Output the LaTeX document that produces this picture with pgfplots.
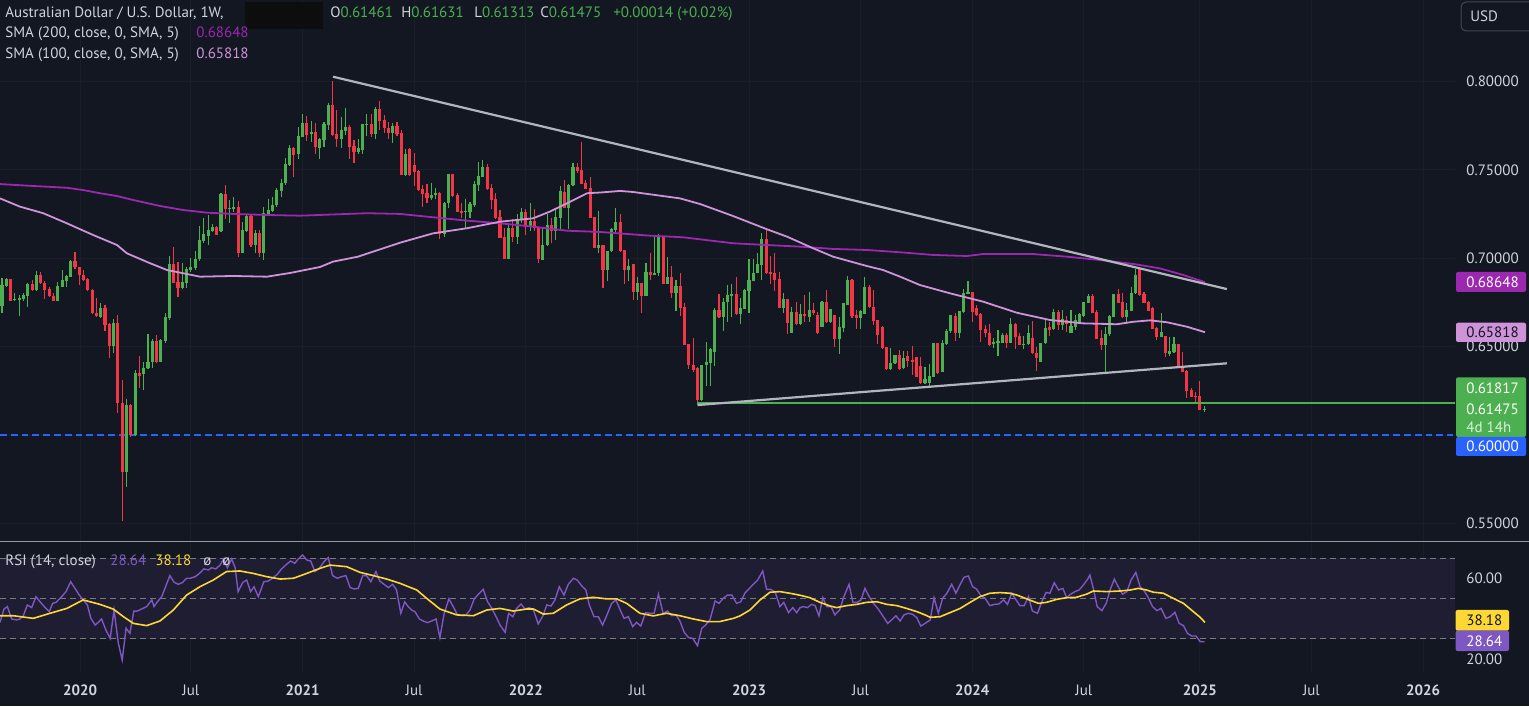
\documentclass[border=0pt]{standalone}
\usepackage{fontspec}
\setmainfont{PT Sans}
\usepackage{pgfplots}
\usepackage{pgfplotstable}
\pgfplotsset{compat=1.18}

\definecolor{bg}{HTML}{131722}
\definecolor{txt}{HTML}{D1D4DC}
\definecolor{upc}{HTML}{4CAF50}
\definecolor{dnc}{HTML}{F23645}
\definecolor{smaA}{HTML}{9C27B0}
\definecolor{smaB}{HTML}{CE93D8}
\definecolor{trend}{HTML}{B2B5BE}
\definecolor{blu}{HTML}{2962FF}
\definecolor{rsic}{HTML}{7E57C2}
\definecolor{rsima}{HTML}{FDD835}
\definecolor{band}{HTML}{1E1D32}
\definecolor{gridc}{HTML}{1A1E29}
\definecolor{dashc}{HTML}{787B86}
\definecolor{sep}{HTML}{9598A1}
\definecolor{boxline}{HTML}{434651}

\newcommand\tv{\fontsize{7.5}{8.5}\selectfont}

% weekly AUD/USD candles, i = week index (0 = late Aug 2019)
\pgfplotstableread{
i o h l c
0 0.6731 0.6887 0.6693 0.6849
1 0.6844 0.6887 0.6840 0.6881
2 0.6883 0.6883 0.6757 0.6761
3 0.6768 0.6806 0.6761 0.6772
4 0.6770 0.6793 0.6674 0.6773
5 0.6768 0.6806 0.6761 0.6793
6 0.6789 0.6863 0.6727 0.6855
7 0.6855 0.6878 0.6817 0.6821
8 0.6821 0.6930 0.6817 0.6906
9 0.6906 0.6925 0.6855 0.6859
10 0.6863 0.6872 0.6772 0.6821
11 0.6825 0.6836 0.6780 0.6787
12 0.6787 0.6802 0.6757 0.6761
13 0.6761 0.6868 0.6757 0.6844
14 0.6840 0.6934 0.6836 0.6878
15 0.6874 0.6906 0.6840 0.6900
16 0.6897 0.6991 0.6893 0.6987
17 0.6985 0.7036 0.6938 0.6949
18 0.6949 0.6953 0.6849 0.6906
19 0.6906 0.6934 0.6872 0.6878
20 0.6881 0.6887 0.6817 0.6821
21 0.6821 0.6825 0.6685 0.6693
22 0.6693 0.6774 0.6666 0.6674
23 0.6670 0.6749 0.6661 0.6717
24 0.6717 0.6736 0.6591 0.6623
25 0.6629 0.6633 0.6438 0.6504
26 0.6504 0.6655 0.6467 0.6633
27 0.6633 0.6680 0.6127 0.6180
28 0.6180 0.6312 0.5516 0.5794
29 0.5794 0.6203 0.5709 0.6171
30 0.6171 0.6175 0.5988 0.6001
31 0.6001 0.6369 0.5995 0.6350
32 0.6350 0.6448 0.6265 0.6335
33 0.6346 0.6416 0.6255 0.6378
34 0.6378 0.6572 0.6372 0.6416
35 0.6416 0.6542 0.6378 0.6533
36 0.6533 0.6567 0.6406 0.6416
37 0.6416 0.6542 0.6412 0.6538
38 0.6533 0.6689 0.6523 0.6670
39 0.6661 0.7013 0.6651 0.6968
40 0.6968 0.7062 0.6859 0.6863
41 0.6868 0.6981 0.6780 0.6831
42 0.6831 0.6976 0.6825 0.6868
43 0.6863 0.6953 0.6831 0.6938
44 0.6934 0.7000 0.6925 0.6949
45 0.6945 0.7040 0.6934 0.6995
46 0.6995 0.7183 0.6987 0.7104
47 0.7100 0.7226 0.7089 0.7138
48 0.7127 0.7245 0.7076 0.7160
49 0.7157 0.7194 0.7149 0.7179
50 0.7179 0.7183 0.7130 0.7134
51 0.7153 0.7372 0.7151 0.7364
52 0.7364 0.7415 0.7221 0.7279
53 0.7283 0.7330 0.7198 0.7285
54 0.7285 0.7349 0.7264 0.7289
55 0.7292 0.7326 0.7010 0.7032
56 0.7032 0.7208 0.7029 0.7160
57 0.7157 0.7251 0.7151 0.7242
58 0.7242 0.7245 0.7062 0.7076
59 0.7076 0.7160 0.7029 0.7145
60 0.7145 0.7160 0.7006 0.7029
61 0.7029 0.7292 0.6991 0.7255
62 0.7251 0.7334 0.7245 0.7274
63 0.7270 0.7349 0.7264 0.7302
64 0.7302 0.7396 0.7292 0.7387
65 0.7383 0.7447 0.7345 0.7424
66 0.7424 0.7566 0.7415 0.7534
67 0.7528 0.7641 0.7522 0.7622
68 0.7622 0.7628 0.7462 0.7585
69 0.7590 0.7745 0.7560 0.7692
70 0.7688 0.7817 0.7685 0.7768
71 0.7768 0.7805 0.7666 0.7698
72 0.7703 0.7779 0.7660 0.7717
73 0.7717 0.7768 0.7590 0.7628
74 0.7622 0.7679 0.7562 0.7675
75 0.7669 0.7773 0.7632 0.7758
76 0.7754 0.7881 0.7726 0.7867
77 0.7867 0.8003 0.7692 0.7698
78 0.7703 0.7839 0.7628 0.7675
79 0.7675 0.7798 0.7622 0.7726
80 0.7722 0.7849 0.7698 0.7745
81 0.7745 0.7754 0.7562 0.7632
82 0.7636 0.7669 0.7538 0.7604
83 0.7604 0.7675 0.7590 0.7626
84 0.7613 0.7760 0.7590 0.7760
85 0.7758 0.7817 0.7692 0.7762
86 0.7760 0.7817 0.7688 0.7703
87 0.7703 0.7858 0.7675 0.7845
88 0.7845 0.7890 0.7726 0.7779
89 0.7783 0.7811 0.7711 0.7735
90 0.7735 0.7773 0.7675 0.7711
91 0.7711 0.7768 0.7651 0.7749
92 0.7749 0.7773 0.7692 0.7703
93 0.7711 0.7726 0.7472 0.7472
94 0.7472 0.7617 0.7468 0.7590
95 0.7617 0.7622 0.7466 0.7472
96 0.7528 0.7594 0.7409 0.7490
97 0.7494 0.7498 0.7383 0.7387
98 0.7390 0.7415 0.7292 0.7364
99 0.7368 0.7421 0.7315 0.7343
100 0.7343 0.7424 0.7330 0.7358
101 0.7356 0.7396 0.7334 0.7372
102 0.7372 0.7375 0.7110 0.7136
103 0.7136 0.7321 0.7123 0.7311
104 0.7311 0.7477 0.7287 0.7477
105 0.7477 0.7479 0.7345 0.7353
106 0.7358 0.7372 0.7262 0.7264
107 0.7266 0.7315 0.7226 0.7262
108 0.7260 0.7334 0.7174 0.7270
109 0.7260 0.7321 0.7226 0.7307
110 0.7302 0.7440 0.7292 0.7421
111 0.7415 0.7547 0.7383 0.7466
112 0.7462 0.7556 0.7458 0.7519
113 0.7519 0.7534 0.7387 0.7392
114 0.7396 0.7421 0.7279 0.7330
115 0.7334 0.7368 0.7224 0.7226
116 0.7232 0.7273 0.7115 0.7117
117 0.7123 0.7170 0.6994 0.6996
118 0.6996 0.7189 0.6994 0.7170
119 0.7170 0.7221 0.7095 0.7123
120 0.7123 0.7251 0.7081 0.7223
121 0.7221 0.7283 0.7202 0.7264
122 0.7264 0.7277 0.7132 0.7179
123 0.7179 0.7311 0.7157 0.7211
124 0.7211 0.7277 0.7157 0.7170
125 0.7170 0.7172 0.6972 0.6995
126 0.6991 0.7170 0.6989 0.7076
127 0.7074 0.7251 0.7070 0.7189
128 0.7189 0.7226 0.7089 0.7157
129 0.7157 0.7283 0.7104 0.7232
130 0.7226 0.7409 0.7160 0.7381
131 0.7377 0.7443 0.7283 0.7287
132 0.7287 0.7421 0.7164 0.7415
133 0.7415 0.7538 0.7409 0.7519
134 0.7519 0.7541 0.7481 0.7494
135 0.7500 0.7658 0.7419 0.7421
136 0.7424 0.7443 0.7390 0.7392
137 0.7400 0.7462 0.7228 0.7230
138 0.7236 0.7236 0.7057 0.7061
139 0.7061 0.7270 0.7032 0.7076
140 0.7076 0.7078 0.6830 0.6934
141 0.6934 0.7044 0.6874 0.7042
142 0.7040 0.7170 0.7036 0.7166
143 0.7160 0.7283 0.7145 0.7208
144 0.7203 0.7251 0.7037 0.7043
145 0.7047 0.7047 0.6855 0.6934
146 0.6934 0.6994 0.6874 0.6957
147 0.6966 0.6966 0.6764 0.6811
148 0.6811 0.6896 0.6764 0.6858
149 0.6858 0.6858 0.6689 0.6789
150 0.6789 0.6975 0.6785 0.6921
151 0.6921 0.7028 0.6877 0.6906
152 0.6911 0.7126 0.6906 0.6917
153 0.6917 0.7137 0.6902 0.7122
154 0.7122 0.7126 0.6853 0.6855
155 0.6855 0.7009 0.6853 0.6896
156 0.6896 0.6957 0.6777 0.6802
157 0.6802 0.6877 0.6704 0.6843
158 0.6843 0.6915 0.6674 0.6721
159 0.6723 0.6745 0.6508 0.6510
160 0.6516 0.6516 0.6372 0.6397
161 0.6397 0.6547 0.6359 0.6368
162 0.6378 0.6384 0.6180 0.6199
163 0.6199 0.6399 0.6195 0.6397
164 0.6397 0.6529 0.6278 0.6415
165 0.6410 0.6491 0.6278 0.6487
166 0.6472 0.6717 0.6391 0.6708
167 0.6708 0.6798 0.6664 0.6670
168 0.6670 0.6774 0.6589 0.6751
169 0.6751 0.6849 0.6642 0.6793
170 0.6793 0.6855 0.6670 0.6796
171 0.6796 0.6896 0.6679 0.6685
172 0.6685 0.6774 0.6628 0.6717
173 0.6713 0.6825 0.6713 0.6821
174 0.6817 0.6994 0.6689 0.6877
175 0.6874 0.6994 0.6870 0.6919
176 0.6915 0.7032 0.6915 0.6968
177 0.6963 0.7141 0.6877 0.7109
178 0.7109 0.7160 0.6913 0.6915
179 0.6921 0.7013 0.6855 0.6915
180 0.6915 0.7032 0.6817 0.6877
181 0.6883 0.6925 0.6717 0.6721
182 0.6721 0.6802 0.6693 0.6768
183 0.6768 0.6768 0.6570 0.6636
184 0.6580 0.6726 0.6576 0.6698
185 0.6694 0.6755 0.6623 0.6627
186 0.6627 0.6742 0.6623 0.6683
187 0.6683 0.6793 0.6642 0.6674
188 0.6670 0.6808 0.6642 0.6708
189 0.6708 0.6749 0.6679 0.6689
190 0.6679 0.6698 0.6572 0.6576
191 0.6613 0.6760 0.6610 0.6751
192 0.6751 0.6821 0.6636 0.6642
193 0.6642 0.6711 0.6636 0.6711
194 0.6679 0.6679 0.6497 0.6544
195 0.6544 0.6670 0.6459 0.6613
196 0.6604 0.6749 0.6585 0.6745
197 0.6736 0.6900 0.6736 0.6877
198 0.6877 0.6881 0.6664 0.6676
199 0.6679 0.6708 0.6600 0.6664
200 0.6664 0.6708 0.6600 0.6702
201 0.6685 0.6896 0.6685 0.6840
202 0.6840 0.6849 0.6717 0.6723
203 0.6726 0.6821 0.6623 0.6646
204 0.6651 0.6651 0.6515 0.6566
205 0.6613 0.6617 0.6489 0.6491
206 0.6500 0.6500 0.6368 0.6372
207 0.6372 0.6491 0.6368 0.6410
208 0.6406 0.6453 0.6402 0.6453
209 0.6453 0.6481 0.6368 0.6372
210 0.6378 0.6477 0.6372 0.6434
211 0.6447 0.6477 0.6387 0.6421
212 0.6423 0.6504 0.6340 0.6417
213 0.6440 0.6444 0.6327 0.6330
214 0.6391 0.6444 0.6289 0.6293
215 0.6293 0.6387 0.6289 0.6317
216 0.6293 0.6402 0.6274 0.6334
217 0.6330 0.6519 0.6330 0.6519
218 0.6519 0.6523 0.6345 0.6353
219 0.6359 0.6538 0.6359 0.6519
220 0.6515 0.6598 0.6510 0.6589
221 0.6589 0.6679 0.6579 0.6679
222 0.6674 0.6689 0.6532 0.6579
223 0.6579 0.6702 0.6547 0.6702
224 0.6698 0.6824 0.6692 0.6802
225 0.6802 0.6872 0.6802 0.6809
226 0.6809 0.6809 0.6642 0.6694
227 0.6717 0.6736 0.6674 0.6679
228 0.6685 0.6689 0.6528 0.6594
229 0.6600 0.6623 0.6557 0.6576
230 0.6576 0.6626 0.6504 0.6510
231 0.6513 0.6547 0.6491 0.6525
232 0.6519 0.6594 0.6447 0.6532
233 0.6523 0.6576 0.6519 0.6566
234 0.6566 0.6576 0.6491 0.6523
235 0.6523 0.6660 0.6523 0.6628
236 0.6628 0.6632 0.6485 0.6557
237 0.6560 0.6576 0.6510 0.6510
238 0.6510 0.6560 0.6485 0.6515
239 0.6513 0.6623 0.6510 0.6576
240 0.6547 0.6645 0.6459 0.6462
241 0.6466 0.6500 0.6364 0.6434
242 0.6415 0.6523 0.6411 0.6519
243 0.6519 0.6660 0.6515 0.6608
244 0.6613 0.6642 0.6560 0.6594
245 0.6598 0.6713 0.6594 0.6696
246 0.6696 0.6707 0.6594 0.6623
247 0.6623 0.6707 0.6594 0.6655
248 0.6651 0.6674 0.6585 0.6628
249 0.6579 0.6707 0.6579 0.6617
250 0.6613 0.6679 0.6594 0.6651
251 0.6632 0.6689 0.6628 0.6683
252 0.6674 0.6755 0.6670 0.6751
253 0.6749 0.6796 0.6745 0.6787
254 0.6787 0.6796 0.6689 0.6692
255 0.6698 0.6707 0.6542 0.6543
256 0.6551 0.6594 0.6481 0.6510
257 0.6510 0.6609 0.6349 0.6570
258 0.6570 0.6679 0.6562 0.6674
259 0.6670 0.6796 0.6666 0.6796
260 0.6796 0.6824 0.6745 0.6749
261 0.6755 0.6802 0.6660 0.6666
262 0.6666 0.6749 0.6628 0.6707
263 0.6704 0.6836 0.6704 0.6805
264 0.6802 0.6938 0.6798 0.6905
265 0.6938 0.6943 0.6787 0.6792
266 0.6796 0.6809 0.6745 0.6749
267 0.6755 0.6760 0.6704 0.6704
268 0.6717 0.6723 0.6598 0.6600
269 0.6604 0.6613 0.6538 0.6557
270 0.6557 0.6689 0.6553 0.6581
271 0.6560 0.6560 0.6444 0.6462
272 0.6459 0.6553 0.6447 0.6477
273 0.6472 0.6553 0.6466 0.6515
274 0.6515 0.6515 0.6383 0.6387
275 0.6391 0.6472 0.6359 0.6359
276 0.6362 0.6368 0.6208 0.6251
277 0.6255 0.6264 0.6217 0.6217
278 0.6223 0.6246 0.6183 0.6219
279 0.6221 0.6306 0.6142 0.6142
280 0.61461 0.61631 0.61313 0.61475
}\candles

\pgfplotstableread{
i p
-0.47 0.7420
7.2 0.7409
15.1 0.7399
18.9 0.7386
22.8 0.7368
26.8 0.7352
30.5 0.7330
36.8 0.7296
42.2 0.7273
47.8 0.7258
53.8 0.7251
61.7 0.7245
69.4 0.7241
85.0 0.7255
92.7 0.7251
100.4 0.7232
108.3 0.7213
116.0 0.7198
123.7 0.7179
131.6 0.7156
139.3 0.7149
150.9 0.7128
158.6 0.7119
170.3 0.7085
178.2 0.7075
185.9 0.7066
193.6 0.7053
201.5 0.7047
209.2 0.7034
216.9 0.7019
224.8 0.7013
228.5 0.7024
240.2 0.7024
248.1 0.7009
255.8 0.6990
263.5 0.6968
269.7 0.6943
275.1 0.6906
280.2 0.6865
}\smaslow

\pgfplotstableread{
i p
-0.47 0.7339
4.2 0.7292
9.6 0.7255
15.1 0.7198
21.2 0.7132
26.8 0.7075
29.1 0.7028
34.5 0.6972
38.4 0.6934
43.1 0.6911
46.1 0.6896
53.8 0.6900
61.7 0.6896
67.1 0.6917
74.1 0.6951
77.1 0.6981
82.9 0.7009
92.7 0.7088
100.4 0.7141
108.3 0.7170
116.0 0.7207
123.7 0.7226
127.6 0.7264
131.6 0.7311
136.3 0.7368
139.3 0.7372
144.0 0.7381
147.0 0.7375
157.9 0.7339
162.6 0.7307
170.3 0.7239
178.2 0.7164
182.9 0.7122
188.9 0.7057
193.6 0.7009
201.5 0.6956
205.2 0.6934
209.2 0.6896
213.8 0.6849
220.8 0.6802
228.5 0.6755
236.4 0.6692
244.1 0.6651
251.8 0.6632
259.7 0.6627
263.5 0.6641
267.4 0.6649
271.4 0.6638
276.0 0.6613
280.2 0.6582
}\smafast

\pgfplotstableread{
i r
-0.47 38.2
0.47 44.8
1.24 46.0
2.25 39.9
3.42 39.4
4.19 39.9
4.97 41.5
5.90 46.8
6.91 45.5
7.92 50.9
8.85 48.4
9.86 46.0
11.02 43.5
11.80 47.6
12.58 48.1
13.12 49.3
13.90 50.9
14.91 53.4
16.0 58.3
17.0 55.0
18.0 51.7
18.9 49.3
19.9 46.8
20.7 40.2
21.7 36.9
22.4 38.2
23.2 39.9
24.2 34.4
25.2 30.3
26.1 44.3
27.1 27.9
28.0 19.6
28.9 35.3
29.8 32.8
30.7 43.8
31.5 43.8
32.5 44.8
33.7 46.0
34.9 49.3
35.4 46.0
36.2 48.4
37.2 50.9
38.1 55.8
39.1 61.3
40.1 58.0
41.1 57.0
42.1 58.0
43.0 60.0
43.9 60.0
45.0 60.8
46.0 62.4
47.0 64.6
48.1 64.1
48.8 65.2
49.8 64.6
50.8 66.5
51.6 69.5
52.5 65.2
53.5 69.5
54.3 65.2
55.0 53.4
56.1 58.0
57.0 59.1
57.9 53.4
58.7 55.8
59.7 50.9
61.0 58.3
62.0 58.6
63.0 60.0
64.1 61.9
65.1 64.6
66.3 66.9
67.2 68.5
68.2 67.4
69.0 69.5
70.0 71.5
71.0 69.0
71.9 68.5
72.9 63.3
73.9 64.9
75.0 68.2
76.0 70.2
77.0 61.3
78.1 60.0
79.1 60.8
80.1 61.3
81.1 55.4
82.0 54.7
83.0 55.0
84.0 61.3
84.9 61.3
85.9 58.3
87.1 63.3
88.0 58.6
89.0 57.0
90.0 55.4
91.0 57.0
91.9 54.2
92.9 42.7
93.8 48.3
94.6 46.0
95.4 44.3
96.2 43.5
97.2 39.9
98.1 38.9
99.1 38.1
100.1 38.9
101.1 39.9
102.0 30.7
103.0 42.7
104.1 49.8
105.1 46.0
106.1 41.9
107.1 41.5
108.1 41.9
109.0 44.3
110.0 49.8
111.0 52.2
112.1 54.5
113.1 48.4
114.1 45.1
115.1 41.0
116.0 36.9
117.2 33.3
118.0 42.7
119.0 41.0
119.9 45.1
120.9 47.3
121.8 44.8
122.8 45.5
123.8 44.3
124.9 37.4
126.0 41.5
126.9 46.8
127.9 46.3
128.8 49.3
129.8 55.8
130.9 51.7
131.9 57.0
133.1 60.0
134.0 59.1
135.0 56.3
136.0 54.2
136.8 46.8
137.9 41.0
138.9 41.0
139.9 36.9
141.0 42.3
142.0 47.6
143.0 49.3
144.0 44.3
144.9 40.2
145.9 41.0
146.9 36.1
147.8 38.2
148.8 36.4
149.9 43.0
150.9 42.7
151.9 42.7
152.9 52.1
154.0 42.7
155.0 43.8
156.0 41.5
157.0 41.9
157.9 38.9
158.9 33.3
159.9 30.7
160.9 30.3
162.0 26.7
163.0 35.3
163.9 36.9
164.9 39.4
166.1 48.8
167.0 47.6
168.0 50.1
169.0 51.7
170.0 51.7
171.1 47.6
172.1 48.4
173.1 52.9
174.1 55.0
175.0 57.0
176.0 59.1
177.2 63.6
178.1 54.5
179.1 54.5
180.1 53.1
181.2 46.0
182.1 48.1
183.2 43.0
184.2 45.5
185.1 43.0
185.9 45.5
186.7 46.0
187.6 45.5
188.6 47.1
189.4 46.5
190.3 41.4
191.2 50.4
192.1 46.0
193.1 46.0
194.0 41.9
195.1 44.3
196.1 50.9
197.3 57.0
198.2 48.1
199.2 48.1
200.1 49.3
201.0 55.0
202.0 50.9
203.0 47.6
204.1 44.8
205.3 41.0
206.3 37.7
207.2 39.4
208.2 41.5
209.2 38.9
210.1 41.9
211.1 42.7
212.1 42.2
213.1 40.5
214.0 36.4
215.0 37.7
216.2 39.4
217.1 50.4
218.1 42.7
219.1 50.1
220.1 52.6
221.2 57.0
222.2 52.6
223.2 57.0
224.1 60.5
225.1 61.1
226.1 55.8
227.0 54.7
228.0 51.4
229.0 50.1
230.1 46.5
231.2 47.1
232.2 47.3
233.3 49.3
234.2 47.1
235.2 52.6
236.2 49.3
237.1 46.5
238.1 46.5
239.1 50.9
240.0 43.8
241.2 42.7
242.2 48.4
243.2 53.0
244.1 52.6
245.1 57.8
246.1 54.2
247.1 55.0
248.0 50.4
248.9 52.1
249.9 53.4
250.9 54.2
251.9 56.7
252.9 59.6
253.4 61.6
254.2 55.0
255.1 46.0
256.2 44.0
257.2 47.6
258.1 54.2
259.1 59.6
260.0 55.8
261.0 52.1
262.0 53.4
263.0 59.1
264.1 62.9
265.1 55.8
266.1 53.7
267.0 50.4
268.0 46.0
269.0 44.0
270.0 45.1
271.1 40.2
272.1 41.0
273.2 43.2
274.2 37.7
275.2 36.6
276.1 32.8
277.1 31.5
278.1 31.5
279.1 28.7
280.1 28.64
}\rsi

\pgfplotstableread{
i r
-0.47 41.5
2.6 41.5
7.3 40.2
11.2 42.7
15.1 45.1
18.9 49.3
22.8 47.1
25.9 44.8
28.3 41.0
30.6 37.7
33.7 36.6
36.8 38.9
39.9 44.3
43.0 51.7
46.1 55.8
49.2 59.1
52.3 63.3
55.4 63.6
58.5 62.4
61.6 60.8
64.8 59.6
67.9 60.0
71.0 62.4
74.1 64.9
76.4 66.5
80.3 65.7
83.4 62.9
86.5 61.3
89.6 59.6
92.7 57.5
96.6 54.2
98.9 50.1
102.0 44.8
105.9 41.9
109.8 41.5
112.9 44.3
116.0 45.1
119.1 43.8
122.2 44.8
123.8 44.8
126.1 42.3
128.4 42.7
131.5 46.8
134.6 49.8
137.7 50.6
140.9 49.8
143.2 49.8
145.5 47.6
148.6 42.7
151.7 41.4
154.8 42.7
157.9 41.5
161.0 39.9
164.1 38.6
167.2 38.6
170.4 40.2
171.9 41.4
174.2 44.3
176.6 49.3
178.9 53.1
181.2 53.4
183.5 52.6
185.9 51.6
188.2 50.4
190.5 48.1
192.9 46.3
194.4 45.5
196.8 46.5
199.1 47.1
201.4 48.1
203.8 48.4
206.1 47.1
208.4 46.5
210.7 45.1
213.1 43.5
215.0 41.9
216.2 40.7
218.5 41.0
220.8 43.0
223.2 45.1
225.5 48.1
227.8 50.9
230.1 52.6
232.5 52.9
234.8 52.6
236.4 51.7
238.7 49.8
241.4 47.6
243.3 48.1
245.7 49.6
248.0 50.4
250.3 50.6
252.7 52.2
254.2 53.7
257.3 53.4
260.4 53.7
262.8 54.2
264.7 55.0
266.6 54.2
268.2 53.1
270.5 52.6
272.8 50.1
275.2 47.6
277.5 43.5
279.1 40.7
280.2 38.18
}\rsima

\pgfplotsset{
  wick/.style 2 args={draw=none, mark=none, forget plot,
    restrict expr to domain={\thisrow{c}-\thisrow{o}}{#1},
    error bars/.cd, y dir=both, y explicit, error mark=none,
    error bar style={draw=#2, line width=0.55pt}},
  body/.style 2 args={draw=none, mark=none, forget plot,
    restrict expr to domain={\thisrow{c}-\thisrow{o}}{#1},
    error bars/.cd, y dir=both, y explicit, error mark=none,
    error bar style={draw=#2, line width=1.55pt}},
  tvaxis/.style={scale only axis, width=727.5pt,
    xmin=-0.466, xmax=338.45,
    axis line style={draw=none}, major tick length=0pt,
    xtick={18.2,44,70,96,122,148,174,200,226,252,279,305,331},
    xmajorgrids, grid style={draw=gridc, line width=0.5pt},
    yticklabel pos=right,
    yticklabel style={anchor=west, inner sep=0pt, font=\tv, text=txt},
    yticklabel shift=5.5pt},
}

\begin{document}
\begin{tikzpicture}
\useasboundingbox (0,0) rectangle (764.5pt,353pt);
\fill[bg] (0,0) rectangle (764.5pt,353pt);

% price panel
\begin{axis}[tvaxis, at={(0pt,82.5pt)}, anchor=south west, height=270.5pt,
  ymin=0.54010, ymax=0.84610,
  xticklabels=\empty,
  ymajorgrids,
  ytick={0.55,0.60,0.65,0.70,0.75,0.80},
  yticklabels={0.55000,,0.65000,0.70000,0.75000,0.80000},
  clip=false]
\addplot[blu, line width=0.7pt, dash pattern=on 3.4pt off 2pt] coordinates {(-0.466,0.60) (338.0,0.60)};
\addplot[wick={0:1}{upc}] table[x=i, y expr={(\thisrow{h}+\thisrow{l})/2}, y error expr={(\thisrow{h}-\thisrow{l})/2}] {\candles};
\addplot[wick={-1:-0.0000001}{dnc}] table[x=i, y expr={(\thisrow{h}+\thisrow{l})/2}, y error expr={(\thisrow{h}-\thisrow{l})/2}] {\candles};
\addplot[body={0:1}{upc}] table[x=i, y expr={(\thisrow{o}+\thisrow{c})/2}, y error expr={max(abs(\thisrow{c}-\thisrow{o})/2,0.00012)}] {\candles};
\addplot[body={-1:-0.0000001}{dnc}] table[x=i, y expr={(\thisrow{o}+\thisrow{c})/2}, y error expr={max(abs(\thisrow{c}-\thisrow{o})/2,0.00012)}] {\candles};
% moving averages
\addplot[smaA, line width=0.9pt] table[x=i, y=p] {\smaslow};
\addplot[smaB, line width=0.9pt] table[x=i, y=p] {\smafast};
% drawn lines
\addplot[upc, line width=1pt] coordinates {(162.0,0.61817) (338.45,0.61817)};
\addplot[trend, line width=1.1pt] coordinates {(77.1,0.8027) (285.3,0.6826)};
\addplot[trend, line width=1.1pt] coordinates {(162.0,0.6170) (285.3,0.6406)};
\end{axis}

% RSI panel
\begin{axis}[tvaxis, at={(0pt,17pt)}, anchor=south west, height=64.5pt,
  ymin=13.70, ymax=77.41,
  ytick={20,60}, yticklabels={20.00,60.00},
  xticklabels={\textbf{2020},Jul,\textbf{2021},Jul,\textbf{2022},Jul,\textbf{2023},Jul,\textbf{2024},Jul,\textbf{2025},Jul,\textbf{2026}},
  xticklabel style={anchor=center, inner sep=0pt, font=\tv, text=txt},
  xticklabel shift=9pt,
  clip=false]
\fill[band] (axis cs:-0.466,30) rectangle (axis cs:338.45,70);
\foreach \v in {30,50,70}{
  \edef\tmp{\noexpand\draw[dashc, line width=0.5pt, dash pattern=on 3pt off 2pt] (axis cs:-0.466,\v) -- (axis cs:338.45,\v);}\tmp
}
\addplot[rsic, line width=0.7pt] table[x=i, y=r] {\rsi};
\addplot[rsima, line width=0.8pt] table[x=i, y=r] {\rsima};
\end{axis}

% panel separator
\draw[sep, line width=0.6pt] (0,82.25pt) -- (764.5pt,82.25pt);

% legend texts
\begin{scope}[every node/.style={inner sep=0pt, anchor=base west, font=\tv, text=txt}]
\node at (2.5pt,344.25pt) {Australian Dollar / U.S. Dollar, 1W,};
\fill[black!95] (122.5pt,352pt) rectangle (161.5pt,338.5pt);
\node at (165pt,344.25pt) {O\textcolor{upc}{0.61461}};
\node at (200.5pt,344.25pt) {H\textcolor{upc}{0.61631}};
\node at (237pt,344.25pt) {L\textcolor{upc}{0.61313}};
\node at (270pt,344.25pt) {C\textcolor{upc}{0.61475}};
\node[text=upc] at (306.5pt,344.25pt) {+0.00014 (+0.02\%)};
\node at (2.5pt,334.25pt) {SMA (200, close, 0, SMA, 5)};
\node[text=smaA] at (98pt,334.25pt) {0.68648};
\node at (2.5pt,323.75pt) {SMA (100, close, 0, SMA, 5)};
\node[text=smaB] at (98pt,323.75pt) {0.65818};
\node at (2.5pt,70pt) {RSI (14, close)};
\node[text=rsic] at (55pt,70pt) {28.64};
\node[text=rsima] at (77.5pt,70pt) {38.18};
\node at (101.5pt,70pt) {ø};
\node at (111pt,70pt) {ø};
\end{scope}

% right scale boxes
\begin{scope}[every node/.style={inner sep=0pt, anchor=west, font=\tv}]
\draw[boxline, line width=0.5pt, rounded corners=2.5pt] (730.5pt,352pt) rectangle (770pt,337.5pt);
\node[text=txt] at (735pt,345pt) {USD};
\fill[smaA, rounded corners=1pt] (728pt,217pt) rectangle (763pt,207pt);
\node[text=white] at (733pt,212pt) {0.68648};
\fill[smaB, rounded corners=1pt] (728pt,191.65pt) rectangle (763pt,182pt);
\node[text=bg] at (733pt,187pt) {0.65818};
\fill[upc, rounded corners=1pt] (728pt,164.35pt) rectangle (763pt,134.5pt);
\node[text=white] at (733pt,159pt) {0.61817};
\node[text=white] at (733pt,148.5pt) {0.61475};
\node[text=white!80!upc] at (733pt,139.5pt) {4d 14h};
\fill[blu, rounded corners=1pt] (728pt,134.5pt) rectangle (763pt,125pt);
\node[text=white] at (733pt,129.75pt) {0.60000};
\fill[rsima, rounded corners=1pt] (727.75pt,48pt) rectangle (754.5pt,37.65pt);
\node[text=bg] at (733pt,42.8pt) {38.18};
\fill[rsic, rounded corners=1pt] (727.75pt,37.65pt) rectangle (754.5pt,27.5pt);
\node[text=white] at (733pt,32.6pt) {28.64};
\end{scope}
\end{tikzpicture}
\end{document}
